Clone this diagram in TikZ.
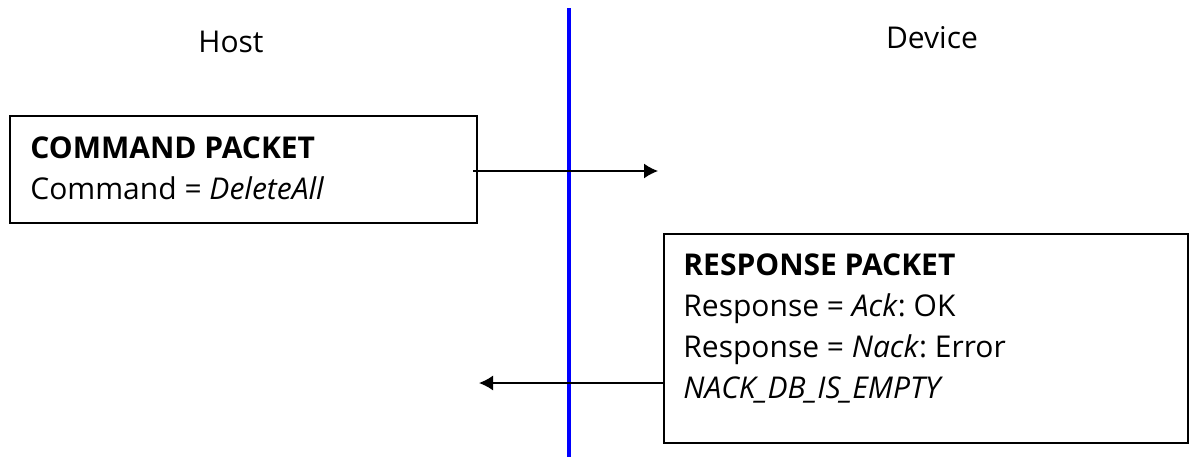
\documentclass[tikz,border=0pt]{standalone}
\usepackage{fontspec}
\setmainfont{Open Sans}
\usetikzlibrary{arrows.meta,positioning}
\frenchspacing

\tikzset{
  packet/.style={draw,line width=0.75pt,rectangle,anchor=north west,inner sep=0pt},
  packettext/.style={anchor=base west,align=left,inner sep=0pt,
    font=\fontsize{15}{20.5}\selectfont},
  side/.style={anchor=base,inner sep=0pt,font=\fontsize{15}{18}\selectfont},
  msg/.style={->,line width=0.75pt},
}

\begin{document}
\begin{tikzpicture}[x=0.5pt,y=-0.5pt,>={Latex[length=7pt,width=7.5pt]}]
  \useasboundingbox (0,0) rectangle (1194,457);

  % the two sides
  \node[side] (host) at (231,52) {Host};
  \node[side] (device) at (932,48) {Device};

  % draw the border line between host and device
  \coordinate (top) at (569,8);
  \coordinate (bottom) at (569,457);
  \draw[blue,line width=2pt] (top) -- (bottom);

  % command packet box (text placed by its last baseline)
  \node[packet,minimum width=233.5pt,minimum height=53.5pt] (cmd) at (9,115) {};
  \node[packettext] (cmdtext) at (30,199)
    {\textbf{COMMAND PACKET}\\Command = \textit{DeleteAll}};

  % response packet box
  \node[packet,minimum width=262pt,minimum height=104.5pt] (rsp) at (663,233) {};
  \node[packettext] (rsptext) at (683,398)
    {\textbf{RESPONSE PACKET}\\
     Response = \textit{Ack}: OK\\
     Response = \textit{Nack}: Error\\
     \textit{NACK\_DB\_IS\_EMPTY}};

  % messages
  \coordinate (cmdfrom) at (473,171);
  \coordinate (cmdto) at (658,171);
  \draw[msg] (cmdfrom) -- (cmdto);

  \coordinate (rspto) at (479,383);
  \draw[msg] (rsp.west |- rspto) -- (rspto);

\end{tikzpicture}
\end{document}
